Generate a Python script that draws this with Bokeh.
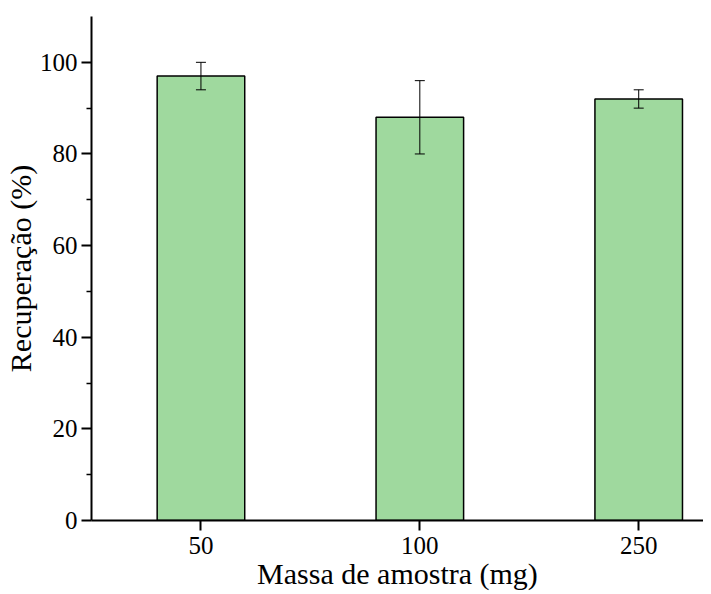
from bokeh.plotting import figure
from bokeh.models import ColumnDataSource, Whisker, FixedTicker, TeeHead, Range1d
from bokeh.embed import file_html
from bokeh.resources import INLINE

categories = ["50", "100", "250"]
recovery = [97, 88, 92]
error = [3, 8, 2]

xs = list(range(len(categories)))
upper = [r + e for r, e in zip(recovery, error)]
lower = [r - e for r, e in zip(recovery, error)]

src = ColumnDataSource(dict(x=xs, top=recovery, upper=upper, lower=lower))

FONT = "'Liberation Serif', 'Times New Roman', serif"

p = figure(width=703, height=594, output_backend="svg", toolbar_location=None,
           x_range=Range1d(-0.5, 2.296), y_range=Range1d(0, 110))
p.min_border_left = 85
p.min_border_right = 0
p.min_border_top = 16
p.min_border_bottom = 74
p.outline_line_color = None
p.xgrid.visible = False
p.ygrid.visible = False

p.vbar(x="x", top="top", bottom=0, width=0.4, source=src,
       fill_color="#9fd99e", line_color="black", line_width=1.5)

w = Whisker(base="x", upper="upper", lower="lower", source=src,
            line_color="black", line_width=1, level="overlay",
            upper_head=TeeHead(size=10, line_color="black", line_width=1),
            lower_head=TeeHead(size=10, line_color="black", line_width=1))
p.add_layout(w)

xa = p.xaxis[0]
xa.ticker = FixedTicker(ticks=xs)
xa.major_label_overrides = {i: c for i, c in zip(xs, categories)}
xa.minor_tick_line_color = None
xa.axis_label = "Massa de amostra (mg)"

ya = p.yaxis[0]
ya.ticker = FixedTicker(ticks=[0, 20, 40, 60, 80, 100], minor_ticks=[10, 30, 50, 70, 90])
ya.axis_label = "Recuperação (%)"
ya.minor_tick_out = 5
ya.minor_tick_in = 0
ya.minor_tick_line_width = 1.5

for ax in (xa, ya):
    ax.axis_line_width = 2
    ax.axis_line_color = "black"
    ax.major_tick_line_width = 2
    ax.major_tick_out = 10
    ax.major_tick_in = 0
    ax.major_label_text_font = FONT
    ax.major_label_text_font_size = "25px"
    ax.major_label_text_color = "black"
    ax.axis_label_text_font = FONT
    ax.axis_label_text_font_size = "30px"
    ax.axis_label_text_font_style = "normal"
    ax.axis_label_text_color = "black"
    ax.axis_label_standoff = 0

xa.major_label_standoff = 6
ya.major_label_standoff = 4

open("out.html", "w").write(file_html(p, INLINE))
